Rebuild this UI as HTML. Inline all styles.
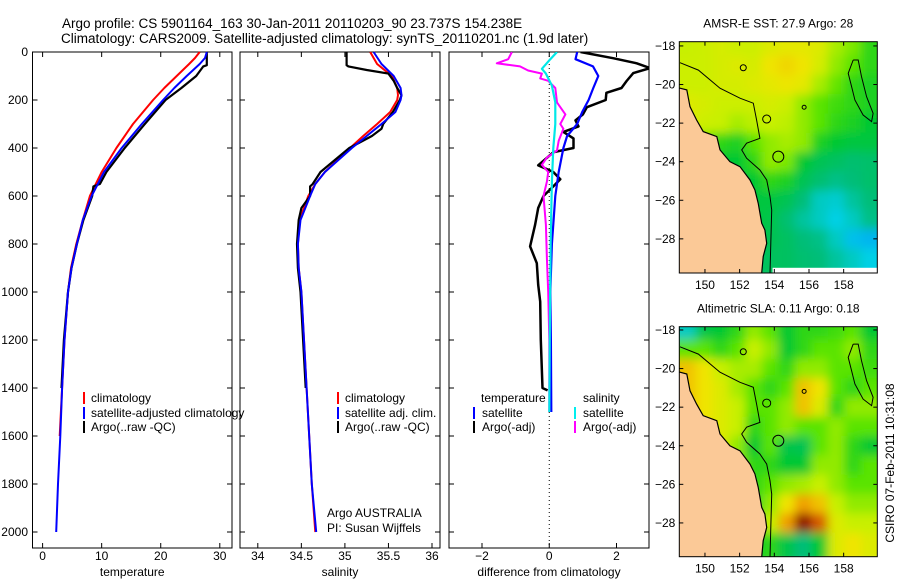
<!DOCTYPE html>
<html><head><meta charset="utf-8">
<style>
html,body{margin:0;padding:0;background:#fff;}
svg{display:block;font-family:"Liberation Sans",sans-serif;}
text{fill:#000;}
</style></head>
<body>
<svg id="fig" width="900" height="580" viewBox="0 0 900 580" xmlns="http://www.w3.org/2000/svg">
<defs>
<filter id="blur" x="-5%" y="-5%" width="110%" height="110%"><feGaussianBlur stdDeviation="5"/></filter>
<clipPath id="clipP3"><rect x="449" y="52" width="200" height="496"/></clipPath>
<clipPath id="clipM1"><rect x="679.3" y="41.7" width="198" height="231.3"/></clipPath>
<clipPath id="clipM2"><rect x="679.3" y="326.7" width="198" height="230"/></clipPath>
</defs>
<text x="62" y="28" font-size="13.5">Argo profile: CS 5901164_163 30-Jan-2011 20110203_90 23.737S 154.238E</text>
<text x="61" y="43" font-size="13.5">Climatology: CARS2009. Satellite-adjusted climatology: synTS_20110201.nc (1.9d later)</text>
<g id="root"></g>
</svg>
<script>
// ---------- Data ----------
const tDepth = [0,25,50,100,150,200,300,400,500,600,700,800,900,1000,1200,1400,1600,1800,2000];
const tClim = [26.6,25.8,24.8,22.7,20.6,18.7,15.3,12.5,10.0,8.0,6.8,5.7,4.8,4.3,3.7,3.3,2.9,2.6,2.3];
const tSat = [27.8,27.5,26.6,24.4,22.3,20.4,16.8,13.4,10.4,8.3,6.8,5.8,4.9,4.3,3.7,3.3,3.0,2.6,2.3];
const tArgoDepth = [0,55,60,100,150,200,300,400,500,550,560,600,700,800,900,1000,1200,1400];
const tArgo = [27.8,27.8,27.2,26.0,23.5,20.8,17.3,13.9,10.8,9.7,8.6,8.4,6.9,5.8,4.9,4.3,3.6,3.2];

const sDepth = [0,50,100,150,180,200,250,300,350,400,500,550,600,700,800,900,1000,1200,1400,1600,1800,2000];
const sClim = [35.29,35.37,35.54,35.60,35.61,35.60,35.52,35.37,35.21,35.06,34.77,34.66,34.58,34.48,34.46,34.47,34.50,34.53,34.56,34.59,34.62,34.66];
const sSat = [35.33,35.42,35.56,35.64,35.65,35.64,35.58,35.42,35.25,35.08,34.77,34.66,34.60,34.49,34.46,34.47,34.50,34.53,34.56,34.59,34.62,34.67];
const sArgoDepth = [0,55,60,75,90,120,150,180,200,250,300,320,350,400,500,550,560,600,650,700,800,900,1000,1200,1400];
const sArgo = [35.02,35.02,35.04,35.25,35.50,35.56,35.60,35.65,35.63,35.55,35.44,35.42,35.31,35.05,34.72,34.63,34.60,34.60,34.50,34.47,34.45,34.46,34.49,34.52,34.55];

const dTArgoDepth = [0,26,47,67,88,121,150,170,200,230,260,285,310,333,360,400,417,472,500,530,560,600,650,720,810,880,970,1040,1200,1400,1410];
const dTArgo = [0.93,1.9,2.6,3.0,2.5,2.3,2.15,1.7,1.68,1.12,1.0,0.78,0.87,0.42,0.72,0.72,0.13,-0.33,0.12,0.33,0.12,-0.17,-0.33,-0.42,-0.57,-0.37,-0.33,-0.27,-0.25,-0.2,-0.05];
const dTSatDepth = [0,30,60,100,150,200,250,300,350,400,500,600,800,1000,1200,1500];
const dTSat = [0.83,0.78,1.3,1.46,1.31,1.17,0.98,0.83,0.53,0.42,0.28,0.18,0.08,0.03,0.05,0.06];
const dSArgoDepth = [0,30,47,60,77,90,110,120,150,210,260,300,320,370,410,440,470,500,540,600,720,860,1000,1200,1500];
const dSArgo = [-1.11,-1.22,-1.56,-0.87,-0.63,-0.22,-0.27,-0.03,0.18,0.23,0.48,0.33,0.42,0.28,0.23,-0.07,-0.22,-0.03,-0.07,-0.17,-0.1,-0.07,-0.03,0.0,0.0];
const dSSatDepth = [0,30,70,90,140,210,300,400,540,800,1100,1500];
const dSSat = [0.23,0.03,-0.22,-0.1,0.08,0.18,0.18,0.12,0.08,0.04,0.02,0.0];

const depthTicks = [0,200,400,600,800,1000,1200,1400,1600,1800,2000];
const tempTicks = [0,10,20,30];
const salTicks = [34,34.5,35,35.5,36];
const salTickLabels = ["34","34.5","35","35.5","36"];
const diffTicks = [-2,0,2];
const latTicks = [-18,-20,-22,-24,-26,-28];
const lonTicks = [150,152,154,156,158];

const sstGrid = [
[0.65,0.66,0.68,0.66,0.66,0.70,0.72,0.72,0.70,0.62,0.58,0.50],
[0.66,0.66,0.68,0.70,0.68,0.75,0.77,0.75,0.68,0.60,0.55,0.50],
[0.66,0.66,0.68,0.68,0.70,0.72,0.74,0.72,0.62,0.56,0.50,0.48],
[0.70,0.68,0.66,0.66,0.66,0.68,0.66,0.60,0.55,0.52,0.50,0.48],
[0.70,0.66,0.65,0.62,0.64,0.65,0.64,0.60,0.55,0.50,0.48,0.45],
[0.60,0.55,0.50,0.48,0.55,0.60,0.62,0.60,0.48,0.45,0.42,0.42],
[0.50,0.50,0.45,0.45,0.50,0.60,0.58,0.45,0.38,0.35,0.32,0.33],
[0.45,0.45,0.42,0.42,0.45,0.50,0.48,0.38,0.32,0.28,0.30,0.33],
[0.45,0.45,0.42,0.42,0.42,0.42,0.38,0.30,0.20,0.18,0.25,0.30],
[0.42,0.42,0.42,0.42,0.42,0.40,0.32,0.25,0.20,0.15,0.20,0.28],
[0.42,0.42,0.42,0.42,0.42,0.38,0.35,0.30,0.28,0.20,0.12,0.10],
[0.42,0.42,0.42,0.42,0.35,0.36,0.35,0.32,0.30,0.25,0.20,0.15]];
const slaGrid = [
[0.20,0.40,0.45,0.50,0.60,0.55,0.45,0.50,0.50,0.52,0.55,0.45],
[0.55,0.55,0.50,0.55,0.65,0.60,0.45,0.50,0.55,0.55,0.60,0.50],
[0.80,0.75,0.65,0.62,0.62,0.55,0.50,0.60,0.60,0.55,0.55,0.52],
[0.80,0.75,0.70,0.62,0.55,0.50,0.55,0.80,0.75,0.55,0.50,0.55],
[0.80,0.75,0.70,0.65,0.55,0.55,0.60,0.80,0.70,0.50,0.60,0.60],
[0.75,0.75,0.70,0.65,0.50,0.55,0.60,0.55,0.55,0.60,0.55,0.55],
[0.70,0.70,0.70,0.60,0.45,0.55,0.40,0.38,0.55,0.60,0.50,0.45],
[0.70,0.70,0.65,0.60,0.50,0.50,0.45,0.45,0.60,0.60,0.50,0.55],
[0.65,0.65,0.60,0.55,0.50,0.55,0.60,0.62,0.65,0.60,0.55,0.55],
[0.60,0.60,0.55,0.50,0.48,0.60,0.75,0.85,0.80,0.65,0.60,0.60],
[0.55,0.55,0.50,0.48,0.48,0.65,0.85,1.00,0.90,0.70,0.65,0.65],
[0.50,0.50,0.45,0.45,0.45,0.50,0.40,0.30,0.45,0.70,0.75,0.70]];

const coastLon = [148.56,148.95,149.14,149.52,149.90,150.68,150.87,151.44,152.02,152.60,152.88,153.07,153.27,153.46,153.56,153.36,153.27];
const coastLat = [-20.19,-20.28,-21.15,-21.84,-22.44,-22.70,-23.39,-24.00,-24.26,-24.95,-25.46,-26.15,-27.19,-27.54,-28.23,-28.92,-29.77];
const isoLon = [148.56,149.62,150.87,152.02,152.79,152.98,153.17,152.40,152.12,152.40,153.17,153.56,153.75,153.85,153.80,153.75];
const isoLat = [-18.87,-19.25,-20.19,-20.71,-20.97,-21.84,-22.79,-23.04,-23.39,-23.82,-24.43,-24.95,-25.81,-26.50,-28.23,-29.77];
const loopLon = [158.55,158.84,159.03,159.32,159.70,159.61,159.12,158.65,158.46,158.26,158.55];
const loopLat = [-18.73,-18.73,-19.59,-20.63,-21.49,-21.92,-21.58,-20.80,-20.11,-19.42,-18.73];
const seamountLon = [154.23,153.56,152.21,155.72];
const seamountLat = [-23.74,-21.79,-19.13,-21.18];

// ---------- helpers ----------
const NS = "http://www.w3.org/2000/svg";
const rootG = document.getElementById('root');
function mk(tag, attrs, parent){ const e=document.createElementNS(NS,tag); for(const k in attrs) e.setAttribute(k,attrs[k]); (parent||rootG).appendChild(e); return e; }
function lin(d0,d1,r0,r1){ return v => r0 + (v-d0)/(d1-d0)*(r1-r0); }

const yD = lin(0,2000,52,532);
const P1 = {x0:32.5,x1:232,sx:lin(0,30,42.6,219.8)};
const P2 = {x0:240,x1:440,sx:lin(34,36,257.8,432)};
const P3 = {x0:449,x1:649,sx:lin(-2,2,482,616.5)};
const pTop=52, pBot=548;

function frame(P,name){
  const r = mk('rect',{x:P.x0,y:pTop,width:P.x1-P.x0,height:pBot-pTop,fill:'none',stroke:'#000','stroke-width':1});
  
  
  depthTicks.forEach(d=>{
    const y=yD(d);
    const a=mk('line',{x1:P.x0,x2:P.x0+5,y1:y,y2:y,stroke:'#000'});
    
    
    const b=mk('line',{x1:P.x1-5,x2:P.x1,y1:y,y2:y,stroke:'#000'});
    
    
  });
}
function xTicks(P,vals,labels,title,tname){
  vals.forEach((v,i)=>{
    const x=P.sx(v);
    const a=mk('line',{x1:x,x2:x,y1:pBot,y2:pBot-5,stroke:'#000'});
    
    
    const b=mk('line',{x1:x,x2:x,y1:pTop,y2:pTop+5,stroke:'#000'});
    
    
    const t=mk('text',{x:x,y:560,'text-anchor':'middle','font-size':12});
    
    
    t.textContent=labels[i];
  });
  const t=mk('text',{x:(P.x0+P.x1)/2,y:576,'text-anchor':'middle','font-size':12});
  
  
  t.textContent=title;
}
function profile(P,depths,vals,color,w,name,clip){
  const pts = depths.map((d,i)=>P.sx(vals[i]).toFixed(1)+','+yD(d).toFixed(1)).join(' ');
  const a={points:pts,fill:'none',stroke:color,'stroke-width':w,'stroke-linejoin':'round'};
  if(clip) a['clip-path']='url(#'+clip+')';
  const e=mk('polyline',a);
  
  
}
function txt(x,y,s,name,size,anchor){
  const t=mk('text',{x:x,y:y,'font-size':size||12,'text-anchor':anchor||'start'});
  
  
  t.textContent=s; return t;
}
function legTick(x,y,color,name){
  const l=mk('line',{x1:x,x2:x,y1:y-6,y2:y+6,stroke:color,'stroke-width':2});
  
  
}

// ---------- panel 1: temperature ----------
frame(P1,'temperature-panel');
depthTicks.forEach(d=>{ txt(28,yD(d)+4,String(d),'depth-tick-label',12,'end'); });
xTicks(P1,tempTicks,tempTicks.map(String),'temperature','temperature-axis-title');
profile(P1,tDepth.slice(0,17),tClim.slice(0,17),'#ff0000',2,'temp-climatology-line');
profile(P1,tArgoDepth,tArgo,'#000',2.2,'temp-argo-line');
profile(P1,tDepth,tSat,'#0000ff',2,'temp-satellite-line');
legTick(84,398,'#f00','legend-climatology-swatch'); txt(91,402,'climatology','legend-climatology');
legTick(84,413,'#00f','legend-satellite-swatch'); txt(91,417,'satellite-adjusted climatology','legend-satellite');
legTick(84,427,'#000','legend-argo-swatch'); txt(91,431,'Argo(..raw -QC)','legend-argo');

// ---------- panel 2: salinity ----------
frame(P2,'salinity-panel');
xTicks(P2,salTicks,salTickLabels,'salinity','salinity-axis-title');
profile(P2,sDepth,sClim,'#ff0000',2,'sal-climatology-line');
profile(P2,sArgoDepth,sArgo,'#000',2.2,'sal-argo-line');
profile(P2,sDepth,sSat,'#0000ff',2,'sal-satellite-line');
legTick(338,398,'#f00','legend2-climatology-swatch'); txt(345,402,'climatology','legend2-climatology');
legTick(338,413,'#00f','legend2-satellite-swatch'); txt(345,417,'satellite adj. clim.','legend2-satellite');
legTick(338,427,'#000','legend2-argo-swatch'); txt(345,431,'Argo(..raw -QC)','legend2-argo');
txt(327,517,'Argo AUSTRALIA','argo-australia-label');
txt(327,532,'PI: Susan Wijffels','pi-label');

// ---------- panel 3: differences ----------
frame(P3,'difference-panel');
xTicks(P3,diffTicks,diffTicks.map(v=>v<0?'\u2212'+Math.abs(v):String(v)),'difference from climatology','difference-axis-title');
const zl=mk('line',{x1:P3.sx(0),x2:P3.sx(0),y1:pTop,y2:pBot,stroke:'#000','stroke-dasharray':'1,3'});


profile(P3,dTArgoDepth,dTArgo,'#000',2.5,'diff-temp-argo-line','clipP3');
profile(P3,dSArgoDepth,dSArgo,'#ff00ff',2,'diff-sal-argo-line','clipP3');
profile(P3,dTSatDepth,dTSat,'#0000ff',2.2,'diff-temp-satellite-line','clipP3');
profile(P3,dSSatDepth,dSSat,'#00e8e8',2.2,'diff-sal-satellite-line','clipP3');
txt(481,402,'temperature','legend3-temperature-heading');
legTick(474,413,'#00f','legend3-temp-sat-swatch'); txt(482,417,'satellite','legend3-temp-sat');
legTick(474,427,'#000','legend3-temp-argo-swatch'); txt(482,431,'Argo(-adj)','legend3-temp-argo');
txt(583,402,'salinity','legend3-salinity-heading');
legTick(575,413,'#0ee','legend3-sal-sat-swatch'); txt(583,417,'satellite','legend3-sal-sat');
legTick(575,427,'#f0f','legend3-sal-argo-swatch'); txt(583,431,'Argo(-adj)','legend3-sal-argo');

// ---------- maps ----------
const cmapStops=[[0,[0,128,255]],[0.15,[0,208,230]],[0.3,[0,190,120]],[0.45,[0,200,50]],[0.55,[90,228,0]],[0.65,[200,240,0]],[0.75,[240,228,0]],[0.85,[240,160,0]],[0.93,[200,50,0]],[1,[140,0,0]]];
function cmap(t){
  for(let i=1;i<cmapStops.length;i++){
    if(t<=cmapStops[i][0]){
      const a=cmapStops[i-1][0], ca=cmapStops[i-1][1], b=cmapStops[i][0], cb=cmapStops[i][1]; const f=(t-a)/(b-a);
      return 'rgb('+ca.map((c,k)=>Math.round(c+(cb[k]-c)*f)).join(',')+')';
    }
  }
  return 'rgb(140,0,0)';
}
function drawMap(M,grid,title,name,blank){
  const sx=lin(M.lon0,M.lon1,M.x0,M.x1), sy=lin(M.lat0,M.lat1,M.y0,M.y1);
  const g=mk('g',{'clip-path':'url(#'+M.clip+')'});
  
  
  const gb=mk('g',{filter:'url(#blur)'},g);
  const nr=grid.length, nc=grid[0].length;
  const cw=(M.lon1-M.lon0)/nc;
  for(let r=0;r<nr;r++) for(let c=0;c<nc;c++){
    let xa=sx(M.lon0+c*cw), xb=sx(M.lon0+(c+1)*cw);
    let ya=sy(-17.5-r), yb=sy(-18.5-r);
    if(c==0) xa-=12; if(c==nc-1) xb+=12; if(r==0) ya-=12; if(r==nr-1) yb+=12;
    const e=mk('rect',{x:xa,y:ya,width:xb-xa+0.5,height:yb-ya+0.5,fill:cmap(grid[r][c])},gb);
    
    
  }
  if(blank){
    const e=mk('rect',{x:sx(153.9),y:sy(-29.5),width:M.x1-sx(153.9),height:M.y1-sy(-29.5),fill:'#fff'},g);
    
    
  }
  const landPts=coastLon.map((l,i)=>sx(l).toFixed(1)+','+sy(coastLat[i]).toFixed(1));
  landPts.push(sx(M.lon0-0.5)+','+(M.y1+5)); landPts.push(sx(M.lon0-0.5)+','+sy(coastLat[0]));
  const land=mk('polygon',{points:landPts.join(' '),fill:'#fbc997',stroke:'#000','stroke-width':1.2},g);
  
  
  const iso=mk('polyline',{points:isoLon.map((l,i)=>sx(l).toFixed(1)+','+sy(isoLat[i]).toFixed(1)).join(' '),fill:'none',stroke:'#000','stroke-width':1},g);
  
  
  const lp=mk('polyline',{points:loopLon.map((l,i)=>sx(l).toFixed(1)+','+sy(loopLat[i]).toFixed(1)).join(' '),fill:'none',stroke:'#000','stroke-width':1},g);
  
  
  const rads=[5.5,4,3,2];
  seamountLon.forEach((l,i)=>{
    const c=mk('circle',{cx:sx(l),cy:sy(seamountLat[i]),r:rads[i],fill:'none',stroke:'#000','stroke-width':1},g);
    
    
  });
  const fr=mk('rect',{x:M.x0,y:M.y0,width:M.x1-M.x0,height:M.y1-M.y0,fill:'none',stroke:'#000'});
  
  
  latTicks.forEach(v=>{
    const y=sy(v);
    const a=mk('line',{x1:M.x0,x2:M.x0+4,y1:y,y2:y,stroke:'#000'});
    
    
    const b=mk('line',{x1:M.x1-4,x2:M.x1,y1:y,y2:y,stroke:'#000'});
    
    
    txt(M.x0-4,y+4,'\u2212'+Math.abs(v),'lat-tick-label',12,'end');
  });
  lonTicks.forEach(v=>{
    const x=sx(v);
    const a=mk('line',{x1:x,x2:x,y1:M.y0,y2:M.y0+4,stroke:'#000'});
    
    
    const b=mk('line',{x1:x,x2:x,y1:M.y1-4,y2:M.y1,stroke:'#000'});
    
    
    txt(x,M.y1+16,String(v),'lon-tick-label',12,'middle');
  });
  txt((M.x0+M.x1)/2,M.y0-14,title,name+'-title',12,'middle');
}
drawMap({x0:679.3,x1:877.3,y0:41.7,y1:273,lon0:148.52,lon1:159.94,lat0:-17.78,lat1:-29.77,clip:'clipM1'},sstGrid,'AMSR-E SST: 27.9  Argo: 28','sst-map',true);
drawMap({x0:679.3,x1:877.3,y0:326.7,y1:556.7,lon0:148.52,lon1:159.94,lat0:-17.83,lat1:-29.75,clip:'clipM2'},slaGrid,'Altimetric SLA: 0.11  Argo: 0.18','sla-map',false);
const cs=txt(0,0,'CSIRO 07-Feb-2011 10:31:08','csiro-timestamp',12,'middle');
cs.setAttribute('transform','translate(894,463) rotate(-90)');
</script>
</body></html>
